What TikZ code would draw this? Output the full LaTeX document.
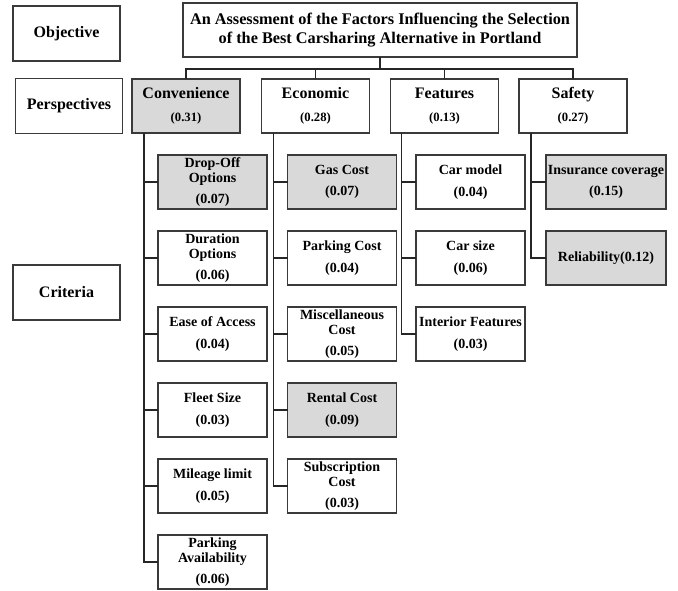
\documentclass[tikz,border=0pt]{standalone}
\usepackage{fontspec}
\setmainfont{Liberation Serif}
\usetikzlibrary{positioning, calc}
\definecolor{pickGray}{HTML}{D9D9D9}
\definecolor{edgeDark}{HTML}{3A3A3A}
\tikzset{
    baseBox/.style={draw=edgeDark, line width=1.1pt, inner sep=1pt, outer sep=0pt, align=center},
    levelBox/.style={baseBox, minimum width=80.5pt, minimum height=41pt, font=\fontsize{12}{14}\selectfont\bfseries},
    perspBox/.style={baseBox, minimum width=81pt, minimum height=40.5pt, font=\fontsize{12}{14}\selectfont\bfseries},
    critBox/.style={baseBox, minimum width=81.5pt, minimum height=40.5pt, font=\fontsize{10.5}{11.5}\selectfont\bfseries},
    picked/.style={fill=pickGray},
    link/.style={draw=black!85, line width=0.8pt}
}
\newcommand{\PerspWeight}[1]{\\[3pt]{\fontsize{9.5}{11}\selectfont(#1)}}
\newcommand{\CritWeight}[1]{\\[4.5pt](#1)}

\begin{document}
\begin{tikzpicture}[x=0.75pt, y=-0.75pt]
    \useasboundingbox (0,0) rectangle (678,591);

    % Level labels
    \node[levelBox] (objLbl) at (66.5,33.5) {Objective};
    \node[levelBox] (perspLbl) at (69,106) {Perspectives};
    \node[levelBox] (critLbl) at (66.5,292.5) {Criteria};

    % Objective
    \node[baseBox, minimum width=295.5pt, minimum height=40.5pt, font=\fontsize{12.2}{13.8}\selectfont\bfseries] (goal) at (380,30)
        {An Assessment of the Factors Influencing the Selection\\of the Best Carsharing Alternative in Portland};

    % Perspectives
    \node[perspBox, picked] (conv) at (186,106) {Convenience\PerspWeight{0.31}};
    \node[perspBox] (econ) at (315.5,106) {Economic\PerspWeight{0.28}};
    \node[perspBox] (feat) at (444.5,106) {Features\PerspWeight{0.13}};
    \node[perspBox] (safe) at (573,106) {Safety\PerspWeight{0.27}};

    % Criteria: Convenience
    \node[critBox, picked] (drop) at (212.5,182) {Drop-Off\\Options\CritWeight{0.07}};
    \node[critBox] (dur) at (212.5,258) {Duration\\Options\CritWeight{0.06}};
    \node[critBox] (ease) at (212.5,334) {Ease of Access\CritWeight{0.04}};
    \node[critBox] (fleet) at (212.5,410) {Fleet Size\CritWeight{0.03}};
    \node[critBox] (mile) at (212.5,486) {Mileage limit\CritWeight{0.05}};
    \node[critBox] (parkav) at (212.5,562) {Parking\\Availability\CritWeight{0.06}};

    % Criteria: Economic
    \node[critBox, picked] (gas) at (342,182) {Gas Cost\CritWeight{0.07}};
    \node[critBox] (parkc) at (342,258) {Parking Cost\CritWeight{0.04}};
    \node[critBox] (misc) at (342,334) {Miscellaneous\\Cost\CritWeight{0.05}};
    \node[critBox, picked] (rent) at (342,410) {Rental Cost\CritWeight{0.09}};
    \node[critBox] (subs) at (342,486) {Subscription\\Cost\CritWeight{0.03}};

    % Criteria: Features
    \node[critBox] (model) at (470.5,182) {Car model\CritWeight{0.04}};
    \node[critBox] (size) at (470.5,258) {Car size\CritWeight{0.06}};
    \node[critBox] (inter) at (470.5,334) {Interior Features\CritWeight{0.03}};

    % Criteria: Safety
    \node[critBox, picked, minimum width=90pt] (ins) at (606,182) {Insurance coverage\CritWeight{0.15}};
    \node[critBox, picked, minimum width=90pt] (rel) at (606,258) {Reliability(0.12)};

    % Objective to perspectives
    \draw[link] (goal.south) -- ++(0,12);
    \draw[link] (conv.north) -- ++(0,-10) -| (safe.north);
    \draw[link] (econ.north) -- ++(0,-10);
    \draw[link] (feat.north) -- ++(0,-10);

    % Perspectives to criteria
    \coordinate (convTrunk) at ([xshift=9pt]conv.south west);
    \coordinate (econTrunk) at ([xshift=9pt]econ.south west);
    \coordinate (featTrunk) at ([xshift=8.5pt]feat.south west);
    \coordinate (safeTrunk) at ([xshift=9pt]safe.south west);
    \draw[link] (convTrunk) |- (parkav.west);
    \foreach \c in {drop,dur,ease,fleet,mile}
        \draw[link] (convTrunk |- \c.west) -- (\c.west);
    \draw[link] (econTrunk) |- (subs.west);
    \foreach \c in {gas,parkc,misc,rent}
        \draw[link] (econTrunk |- \c.west) -- (\c.west);
    \draw[link] (featTrunk) |- (inter.west);
    \foreach \c in {model,size}
        \draw[link] (featTrunk |- \c.west) -- (\c.west);
    \draw[link] (safeTrunk) |- (rel.west);
    \draw[link] (safeTrunk |- ins.west) -- (ins.west);
\end{tikzpicture}
\end{document}
